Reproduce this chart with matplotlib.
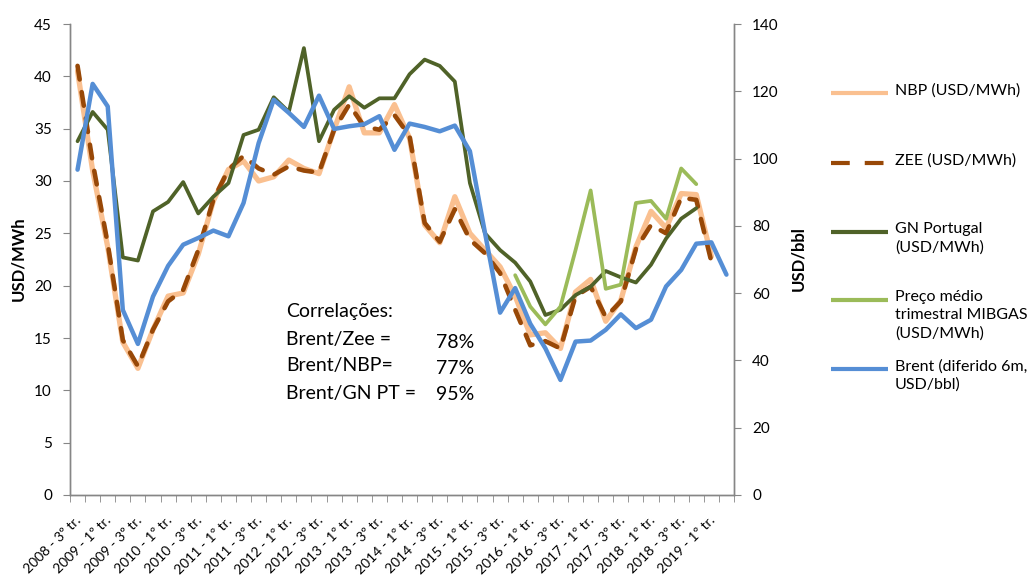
import matplotlib
matplotlib.use("Agg")
import matplotlib.pyplot as plt
import numpy as np
from matplotlib.lines import Line2D
from matplotlib.transforms import ScaledTranslation

plt.rcParams["font.family"] = ["Lato", "DejaVu Sans"]

W, H = 1035, 580

QUARTERS = [
    "2008 - 3º tr.", "2008 - 4º tr.",
    "2009 - 1º tr.", "2009 - 2º tr.", "2009 - 3º tr.", "2009 - 4º tr.",
    "2010 - 1º tr.", "2010 - 2º tr.", "2010 - 3º tr.", "2010 - 4º tr.",
    "2011 - 1º tr.", "2011 - 2º tr.", "2011 - 3º tr.", "2011 - 4º tr.",
    "2012 - 1º tr.", "2012 - 2º tr.", "2012 - 3º tr.", "2012 - 4º tr.",
    "2013 - 1º tr.", "2013 - 2º tr.", "2013 - 3º tr.", "2013 - 4º tr.",
    "2014 - 1º tr.", "2014 - 2º tr.", "2014 - 3º tr.", "2014 - 4º tr.",
    "2015 - 1º tr.", "2015 - 2º tr.", "2015 - 3º tr.", "2015 - 4º tr.",
    "2016 - 1º tr.", "2016 - 2º tr.", "2016 - 3º tr.", "2016 - 4º tr.",
    "2017 - 1º tr.", "2017 - 2º tr.", "2017 - 3º tr.", "2017 - 4º tr.",
    "2018 - 1º tr.", "2018 - 2º tr.", "2018 - 3º tr.", "2018 - 4º tr.",
    "2019 - 1º tr.", "2019 - 2º tr.",
]

# USD/MWh (left axis)
NBP = [40.5, 31.0, 23.7, 14.6, 12.1, 15.8, 19.0, 19.3, 23.0, 28.1,
       31.1, 31.9, 30.0, 30.4, 32.0, 31.2, 30.7, 34.9, 39.0, 34.6,
       34.6, 37.3, 34.1, 25.8, 24.1, 28.5, 25.0, 23.4, 21.8, 19.0,
       15.3, 15.5, 14.0, 19.4, 20.6, 16.6, 18.6, 23.7, 27.1, 25.5,
       28.8, 28.7, 22.8, None]
ZEE = [41.0, 31.8, 24.0, 14.8, 12.3, 15.8, 18.5, 19.6, 23.4, 28.2,
       31.1, 32.4, 31.2, 30.6, 31.4, 31.0, 30.8, 34.9, 37.3, 35.2,
       34.9, 36.3, 34.3, 26.0, 24.2, 27.3, 24.4, 23.1, 21.2, 17.7,
       14.3, 14.7, 14.0, 19.0, 19.9, 17.0, 18.5, 23.5, 25.8, 25.0,
       28.4, 28.2, 22.3, None]
GN_PT = [33.8, 36.6, 34.9, 22.7, 22.4, 27.1, 28.0, 29.9, 26.9, 28.5,
         29.8, 34.4, 34.9, 38.0, 36.6, 42.7, 33.8, 36.8, 38.1, 37.0,
         37.9, 37.9, 40.2, 41.6, 41.0, 39.5, 29.8, 25.0, 23.4, 22.2,
         20.4, 17.2, 17.7, 19.1, 19.9, 21.4, 20.8, 20.3, 22.0, 24.5,
         26.4, 27.4, None, None]
MIBGAS = [None] * 29 + [21.0, 18.0, 16.3, 18.0, 23.4, 29.1, 19.7, 20.1,
                        27.9, 28.1, 26.4, 31.2, 29.7, None, None]
# USD/bbl (right axis)
BRENT = [96.7, 122.2, 115.5, 55.0, 44.9, 59.0, 68.1, 74.4, 76.4, 78.6,
         76.9, 86.8, 104.6, 117.5, 113.6, 109.4, 118.7, 108.8, 109.6, 110.2,
         112.6, 102.6, 110.4, 109.4, 108.1, 109.8, 102.2, 77.9, 54.2, 61.5,
         50.9, 43.6, 34.2, 45.6, 45.9, 49.1, 53.7, 49.6, 52.1, 62.0,
         66.9, 74.7, 75.1, 65.5]

CORR_TITLE = "Correlações:"
CORR_LABELS = ["Brent/Zee =", "Brent/NBP=", "Brent/GN PT ="]
CORR_VALUES = ["78%", "77%", "95%"]

GREY = "#868686"
DASH = (3.0, 2.8)

STYLES = [
    ("NBP (USD/MWh)", dict(color="#FAC090", lw=3.8)),
    ("ZEE (USD/MWh)", dict(color="#984807", lw=3.3, dashes=DASH, dash_capstyle="round")),
    ("GN Portugal\n(USD/MWh)", dict(color="#4F6228", lw=2.7)),
    ("Preço médio\ntrimestral MIBGAS\n(USD/MWh)", dict(color="#9BBB59", lw=2.7)),
    ("Brent (diferido 6m,\nUSD/bbl)", dict(color="#558ED5", lw=3.2)),
]


def fx(px):
    return px / W


def fy(py):
    return 1 - py / H


def series(values):
    return np.array([np.nan if v is None else v for v in values], dtype=float)


fig = plt.figure(figsize=(W / 100, H / 100), dpi=100)
ax = fig.add_axes([fx(70), fy(495), (734 - 70) / W, (495 - 24) / H])
ax2 = ax.twinx()

x = np.arange(len(QUARTERS))
left_series = [NBP, ZEE, GN_PT, MIBGAS]
for (label, style), vals in zip(STYLES[:4], left_series):
    ax.plot(x, series(vals), solid_capstyle="round", solid_joinstyle="round", **style)
ax2.plot(x, series(BRENT), solid_capstyle="round", solid_joinstyle="round", **STYLES[4][1])

ax.set_xlim(-0.5, len(QUARTERS) - 0.5)
ax.set_ylim(0, 45)
ax2.set_ylim(0, 140)
ax.set_yticks(np.arange(0, 46, 5))
ax2.set_yticks(np.arange(0, 141, 20))

for a in (ax, ax2):
    a.spines["top"].set_visible(False)
    for s in ("left", "right", "bottom"):
        a.spines[s].set_color(GREY)
        a.spines[s].set_linewidth(1.0)
    a.tick_params(axis="y", length=5, color=GREY, labelsize=11, pad=8)

ax.set_xticks(x[::2])
ax.set_xticklabels(QUARTERS[::2], rotation=45, ha="right", va="top", fontsize=10)
ax.set_xticks(np.arange(-0.5, len(QUARTERS), 1), minor=True)
ax.tick_params(axis="x", which="major", length=0, pad=14)
ax.tick_params(axis="x", which="minor", length=5, color=GREY)
shift = ScaledTranslation(6 / 100, 0, fig.dpi_scale_trans)
for lbl in ax.get_xticklabels():
    lbl.set_transform(lbl.get_transform() + shift)

fig.text(fx(18), fy(259), "USD/MWh", rotation=90, ha="center", va="center",
         fontsize=12, fontweight="bold")
fig.text(fx(798), fy(259), "USD/bbl", rotation=90, ha="center", va="center",
         fontsize=12, fontweight="bold")

# legend drawn by hand, handle aligned with the first text line
legend_y = [93, 163, 232, 300, 369]
for (label, style), ly in zip(STYLES, legend_y):
    handle_style = {k: v for k, v in style.items() if k != "lw"}
    if "dashes" in handle_style:
        handle_style["dashes"] = (4.5, 3.6)
        handle_style["dash_capstyle"] = "butt"
    handle = Line2D([fx(831), fx(888)], [fy(ly), fy(ly)], transform=fig.transFigure,
                    solid_capstyle="butt", lw=3.0, **handle_style)
    fig.add_artist(handle)
    fig.text(fx(895), fy(ly - 10), label, ha="left", va="top", fontsize=11.5, linespacing=1.38)

fig.text(fx(286), fy(312), CORR_TITLE, ha="left", va="center", fontsize=14)
for i, (lab, val) in enumerate(zip(CORR_LABELS, CORR_VALUES)):
    fig.text(fx(286), fy(339 + 27 * i), lab, ha="left", va="center", fontsize=14)
    fig.text(fx(436), fy(343 + 26 * i), val, ha="left", va="center", fontsize=14)

fig.savefig("out.png", dpi=100)
